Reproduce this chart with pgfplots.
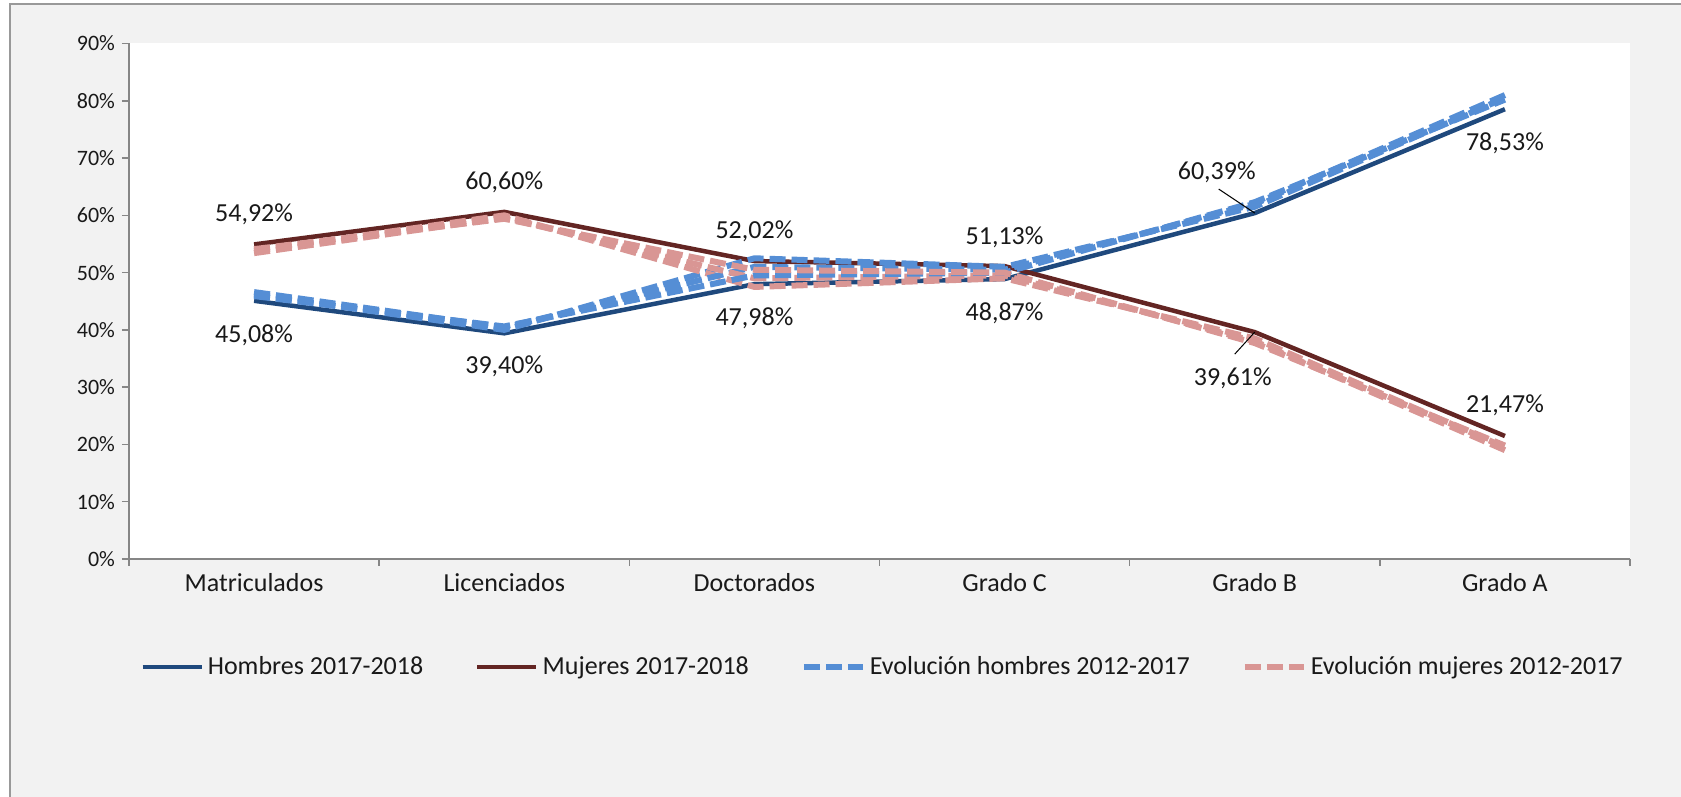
\documentclass[border=0pt]{standalone}
\usepackage{fontspec}
\setmainfont{Carlito}
\usepackage{pgfplots}
\pgfplotsset{compat=1.18}
\definecolor{hblue}{HTML}{1F497D}
\definecolor{mred}{HTML}{632523}
\definecolor{eblue}{HTML}{558ED5}
\definecolor{epink}{HTML}{D99694}
\definecolor{bggray}{HTML}{F2F2F2}
\definecolor{axgray}{HTML}{868686}
\tikzset{lbl/.style={font=\fontsize{13bp}{15bp}\selectfont, text=black!90}}

\begin{document}
\begin{tikzpicture}
\useasboundingbox (0,0) rectangle (840.5bp,398.5bp);
\fill[white] (0,0) rectangle (840.5bp,398.5bp);
\fill[bggray] (5bp,0) rectangle (840.5bp,396.5bp);
\draw[line width=0.8bp, black!40] (5bp,0) -- (5bp,396.5bp) -- (840.5bp,396.5bp);
\begin{axis}[
  at={(64.5bp,119bp)}, anchor=south west,
  scale only axis, width=750.5bp, height=257.75bp,
  xmin=-0.5, xmax=5.5, ymin=0, ymax=90,
  clip=false,
  axis x line*=bottom, axis y line*=left,
  axis line style={axgray, line width=0.75bp, -},
  axis background/.style={fill=white},
  tick align=outside,
  major tick length=3.5bp, minor tick length=3.5bp,
  tick style={axgray, line width=0.75bp},
  xtick={0,1,2,3,4,5},
  xticklabels={Matriculados,Licenciados,Doctorados,Grado C,Grado B,Grado A},
  major x tick style={draw=none},
  minor xtick={-0.5,0.5,1.5,2.5,3.5,4.5,5.5},
  ytick={0,10,20,30,40,50,60,70,80,90},
  yticklabels={0\%,10\%,20\%,30\%,40\%,50\%,60\%,70\%,80\%,90\%},
  yticklabel style={font=\fontsize{11bp}{13bp}\selectfont, text=black!90},
  xticklabel style={font=\fontsize{13bp}{15bp}\selectfont, text=black!90},
  legend columns=4,
  legend style={at={(0.0073,-0.2095)}, anchor=west, draw=none, fill=none,
    font=\fontsize{13bp}{15bp}\selectfont, text=black!90, inner sep=0pt,
    /tikz/every even column/.append style={column sep=24bp}},
  legend image code/.code={\draw[#1] (0bp,0bp) -- (29.5bp,0bp);},
]
% 2017-2018
\addplot[hblue, line width=2.25bp, line join=round] coordinates {(0,45.08) (1,39.40) (2,47.98) (3,48.87) (4,60.39) (5,78.53)};
\addlegendentry{Hombres 2017-2018}
\addplot[mred, line width=2.25bp, line join=round] coordinates {(0,54.92) (1,60.60) (2,52.02) (3,51.13) (4,39.61) (5,21.47)};
\addlegendentry{Mujeres 2017-2018}
% evolucion 2012-2017
\addplot[eblue, line width=3bp, dash pattern=on 8bp off 3bp] coordinates {(0,46.2) (1,40.0) (2,52.5) (3,51.0) (4,61.5) (5,80.5)};
\addlegendentry{Evolución hombres 2012-2017}
\addplot[epink, line width=3bp, dash pattern=on 8bp off 3bp] coordinates {(0,53.8) (1,60.0) (2,47.5) (3,49.0) (4,38.5) (5,19.5)};
\addlegendentry{Evolución mujeres 2012-2017}
\addplot[eblue, line width=3bp, dash pattern=on 8bp off 3bp, forget plot] coordinates {(0,46.6) (1,40.4) (2,51.0) (3,50.5) (4,62.0) (5,81.0)};
\addplot[epink, line width=3bp, dash pattern=on 8bp off 3bp, forget plot] coordinates {(0,53.4) (1,59.6) (2,49.0) (3,49.5) (4,38.0) (5,19.0)};
\addplot[eblue, line width=3bp, dash pattern=on 8bp off 3bp, forget plot] coordinates {(0,45.9) (1,40.6) (2,49.5) (3,50.0) (4,62.3) (5,80.2)};
\addplot[epink, line width=3bp, dash pattern=on 8bp off 3bp, forget plot] coordinates {(0,54.1) (1,59.4) (2,50.5) (3,50.0) (4,37.7) (5,19.8)};
% etiquetas
\node[lbl, yshift=15bp] at (axis cs:0,54.92) {54,92\%};
\node[lbl, yshift=15bp] at (axis cs:1,60.60) {60,60\%};
\node[lbl, yshift=15bp] at (axis cs:2,52.02) {52,02\%};
\node[lbl, yshift=14.5bp] at (axis cs:3,51.13) {51,13\%};
\node[lbl, yshift=15.5bp] at (axis cs:5,21.47) {21,47\%};
\node[lbl, yshift=-17bp] at (axis cs:0,45.08) {45,08\%};
\node[lbl, yshift=-16.5bp] at (axis cs:1,39.40) {39,40\%};
\node[lbl, yshift=-17bp] at (axis cs:2,47.98) {47,98\%};
\node[lbl, yshift=-17bp] at (axis cs:3,48.87) {48,87\%};
\node[lbl, yshift=-17bp] at (axis cs:5,78.53) {78,53\%};
\node[lbl, xshift=-19bp, yshift=20.5bp] at (axis cs:4,60.39) {60,39\%};
\node[lbl, xshift=-11bp, yshift=-23bp] at (axis cs:4,39.61) {39,61\%};
\draw[black, line width=0.5bp] (axis cs:4,60.39) -- ++(-18bp,12bp);
\draw[black, line width=0.5bp] (axis cs:4,39.61) -- ++(-10bp,-11bp);
\end{axis}
\end{tikzpicture}
\end{document}
